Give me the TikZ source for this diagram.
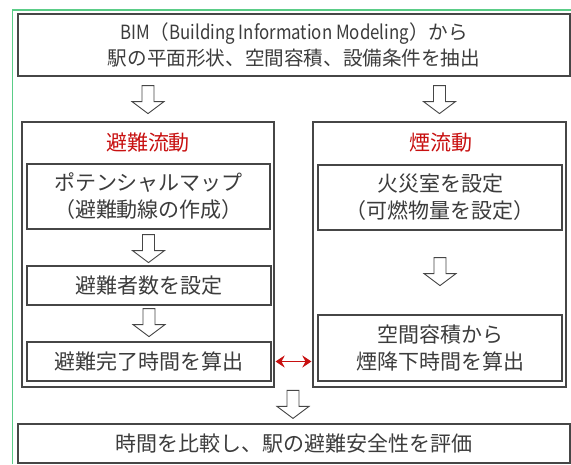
\documentclass[tikz,border=0pt]{standalone}
\usepackage{fontspec}
\setmainfont{Noto Sans CJK JP}
\newfontfamily\narrowlatin[FakeStretch=0.86]{Noto Sans CJK JP}
\usetikzlibrary{arrows.meta,calc}
\definecolor{frameGreen}{RGB}{90,205,135}
\definecolor{boxGray}{RGB}{70,70,70}
\definecolor{textGray}{RGB}{60,60,60}
\definecolor{titleRed}{RGB}{200,16,16}
\newcommand{\hollowdown}[1]{%
  \draw[hollow, shift={#1}] (-6,0) -- (6,0) -- (6,16) -- (16,16) -- (0,28) -- (-16,16) -- (-6,16) -- cycle;}
\begin{document}
\begin{tikzpicture}[x=1pt, y=-1pt,
    box/.style={rectangle, draw=boxGray, line width=1.2pt, fill=white, text=textGray, align=center, font=\fontsize{21}{27}\selectfont, inner sep=0pt},
    title/.style={text=titleRed, font=\fontsize{21}{24}\selectfont},
    hollow/.style={draw=boxGray, line width=0.9pt, fill=white, line join=miter},
    >={Stealth[length=9pt,width=12pt,inset=3pt]}
]
\useasboundingbox (0,0) rectangle (571,464);
\draw[frameGreen, line width=1.6pt] (12.5,464) -- (12.5,10) -- (571,10);

\node[box, font=\fontsize{19.6}{26}\selectfont, minimum width=552pt, minimum height=62pt] (top) at (294,45) {{\narrowlatin BIM}（{\narrowlatin Building Information Modeling}）から\\駅の平面形状、空間容積、設備条件を抽出};
\node[box, minimum width=252pt, minimum height=265pt] (leftbig) at (148,254.5) {};
\node[box, minimum width=253pt, minimum height=265pt] (rightbig) at (439.5,254.5) {};
\node[title] (evactitle) at (148,143) {避難流動};
\node[title] (smoketitle) at (441,143) {煙流動};

\node[box, minimum width=243pt, minimum height=65pt] (pmap) at (148.5,196.5) {ポテンシャルマップ\\（避難動線の作成）};
\node[box, minimum width=244pt, minimum height=39pt] (nevac) at (149,285.5) {避難者数を設定};
\node[box, minimum width=244pt, minimum height=39pt] (tevac) at (149,361.5) {避難完了時間を算出};
\node[box, minimum width=244pt, minimum height=65pt] (fire) at (440,197.5) {火災室を設定\\（可燃物量を設定）};
\node[box, minimum width=244pt, minimum height=66pt] (smoke) at (440,348) {空間容積から\\煙降下時間を算出};
\node[box, minimum width=552pt, minimum height=39pt] (eval) at (294,443.5) {時間を比較し、駅の避難安全性を評価};

\hollowdown{($(top.south -| leftbig)+(0,9)$)}
\hollowdown{($(top.south -| rightbig)+(0,9)$)}
\hollowdown{($(pmap.south)+(0,5)$)}
\hollowdown{($(nevac.south)+(0,3)$)}
\hollowdown{($(fire.south)+(0,27)$)}
\hollowdown{($(eval.north)+(-1,-33)$)}

\draw[<->, titleRed, line width=1.8pt, shorten >=1pt, shorten <=1pt] (leftbig.east |- tevac) -- (rightbig.west |- tevac);
\end{tikzpicture}
\end{document}
